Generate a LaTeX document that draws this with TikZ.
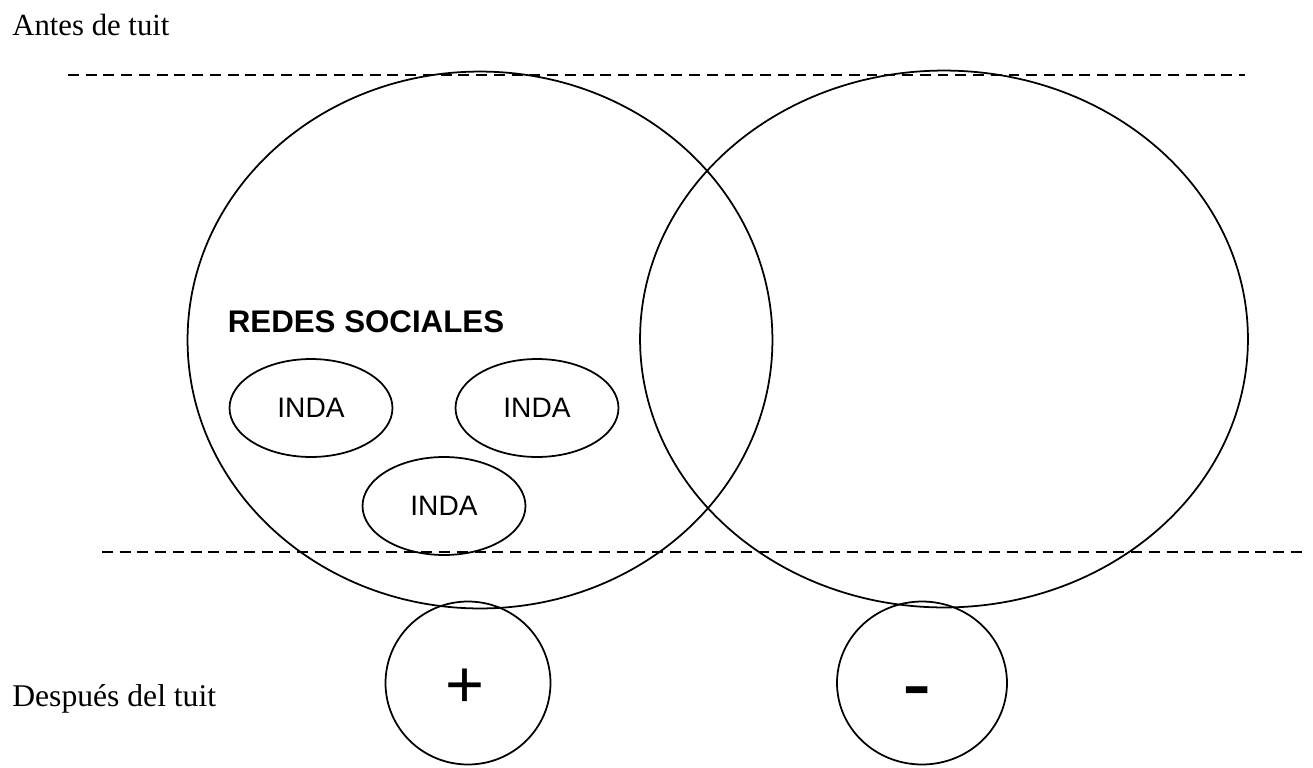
\documentclass[tikz,border=0pt]{standalone}
\usepackage{fontspec}
\setmainfont{Liberation Serif}
\newfontfamily\arialfont{Liberation Sans}
\usepackage{tikz}
\usetikzlibrary{shapes.geometric}
\tikzstyle{ring}=[draw, ellipse, line width=1pt, inner sep=0pt]
\tikzstyle{bigring}=[ring, minimum width=11.7cm, minimum height=10.74cm]
\tikzstyle{smallring}=[ring, minimum width=3.3cm, minimum height=3.26cm]
\tikzstyle{sign}=[inner sep=0pt, font=\arialfont\fontsize{38}{40}\selectfont]
\tikzstyle{inda}=[ring, minimum width=3.26cm, minimum height=1.96cm, font=\arialfont\fontsize{16}{18}\selectfont]
\tikzstyle{cut}=[line width=1.5pt, dash pattern=on 6.2pt off 3.9pt]
\tikzstyle{stage}=[anchor=base west, inner sep=0pt, font=\fontsize{17.5}{20}\selectfont]

\begin{document}
\begin{tikzpicture}[x=0.02cm, y=-0.02cm]
        \useasboundingbox (0, 0) rectangle (1313, 768);
        \node[stage] (antes) at (12, 35) {Antes de tuit};
        \node[stage, font=\fontsize{18}{20}\selectfont] (despues) at (12, 706) {Después del tuit};
        \coordinate (top1) at (68, 75);
        \coordinate (top2) at (1245, 75);
        \coordinate (bot1) at (102, 552);
        \coordinate (bot2) at (1307, 552);
        \draw[cut] (top1) -- (top2);
        \draw[cut] (bot1) -- (bot2);
        \node[bigring] (izq) at (480, 340) {};
        \node[bigring, minimum width=12.16cm] (der) at (944, 339) {};
        \node[anchor=base, inner sep=0pt, font=\arialfont\bfseries\fontsize{17.8}{20}\selectfont] (redes) at (366, 332) {REDES SOCIALES};
        \node[inda] (inda1) at (311, 408) {INDA};
        \node[inda] (inda2) at (537, 408) {INDA};
        \node[inda] (inda3) at (444, 506) {INDA};
        \node[smallring] (mas) at (468, 683) {};
        \node[smallring, minimum width=3.4cm] (menos) at (922, 683) {};
        \node[sign] (masTxt) at (465, 688) {+};
        \node[sign, font=\arialfont\fontsize{50}{52}\selectfont, anchor=base] (menosTxt) at (917, 713) {-};
    \end{tikzpicture}
\end{document}
